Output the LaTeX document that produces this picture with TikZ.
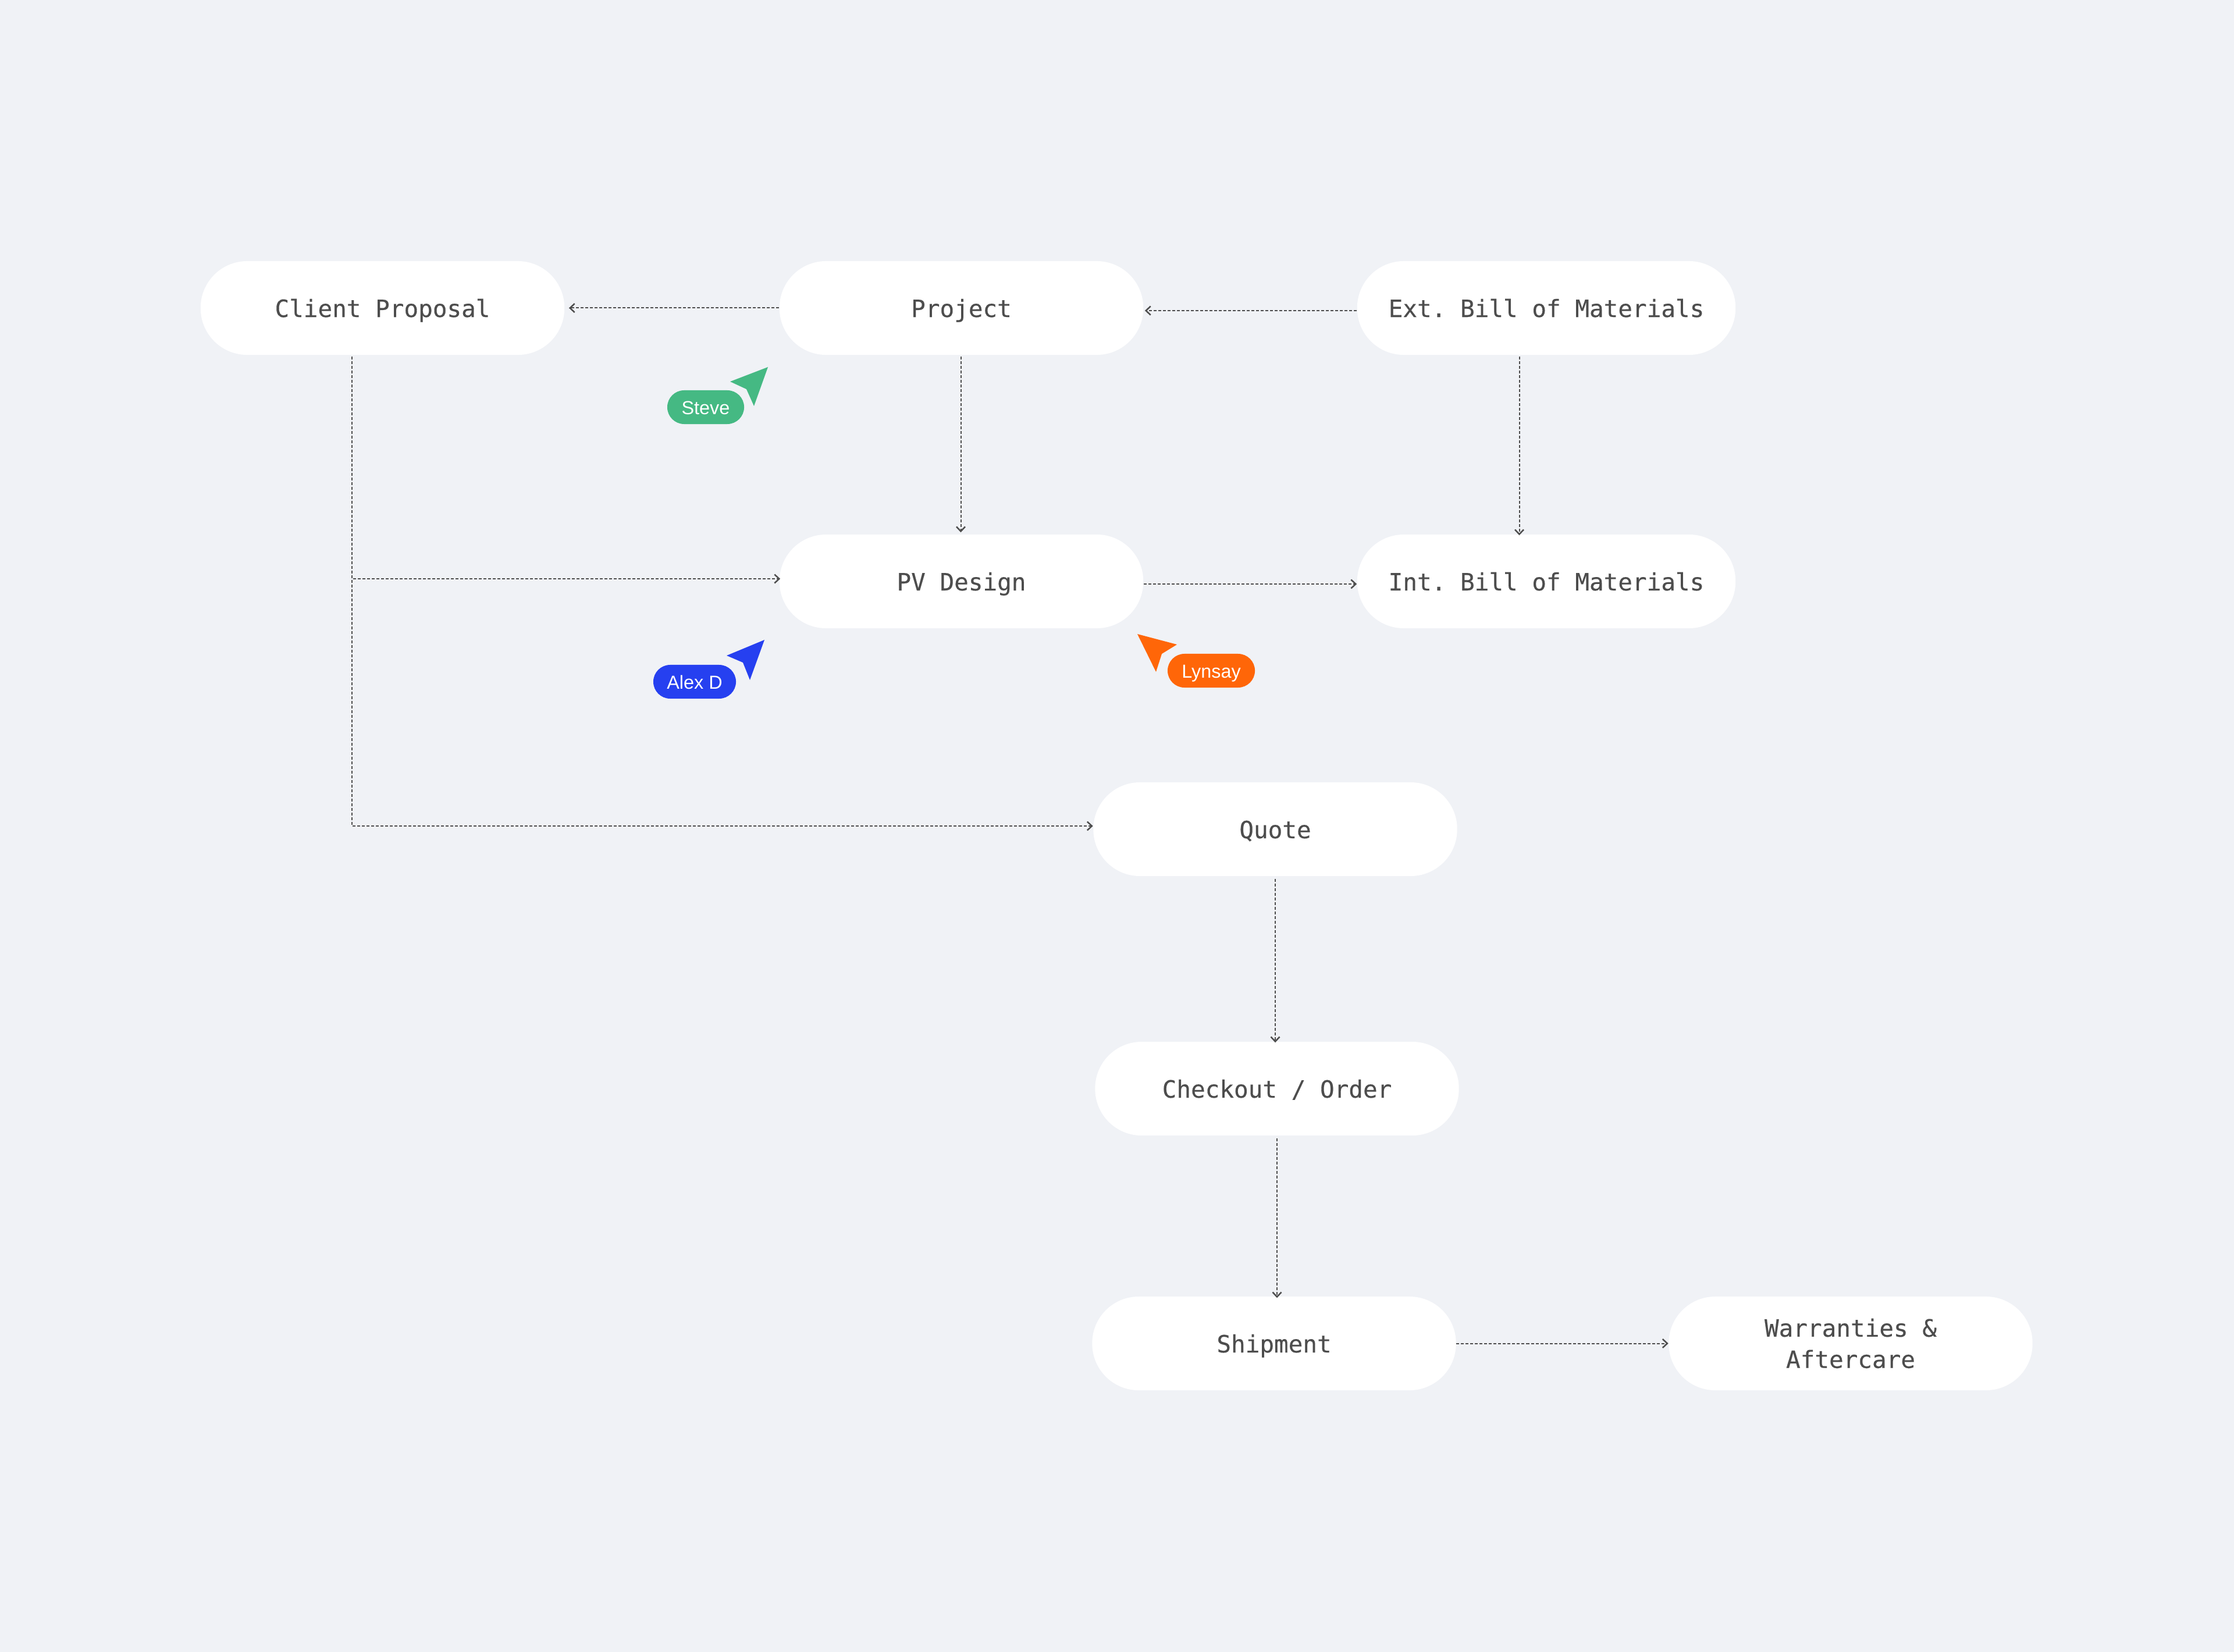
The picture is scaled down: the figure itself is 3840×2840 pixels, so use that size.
\documentclass[tikz,border=0pt]{standalone}
\usepackage{fontspec}
\setmainfont{Liberation Sans}
\setmonofont{DejaVu Sans Mono}
\usepackage{tikz}
\usetikzlibrary{arrows.meta}
\usepackage{xcolor}
\definecolor{pagegray}{RGB}{240,242,246}
\definecolor{inkgray}{RGB}{77,77,77}
\definecolor{steveg}{RGB}{69,185,131}
\definecolor{alexb}{RGB}{38,64,240}
\definecolor{lynsayo}{RGB}{255,102,8}

\begin{document}
\begin{tikzpicture}[x=0.01cm,y=-0.01cm,
  every node/.style={font=\ttfamily\addfontfeature{FakeBold=0.3}\fontsize{11.65}{15.3}\selectfont,text=inkgray},
  stage/.style={fill=white,rounded corners=0.8cm,minimum width=6.25cm,minimum height=1.61cm,inner sep=0pt,align=center},
  oneline/.style={stage,text height=0.31cm,text depth=0cm},
  flow/.style={-{Straight Barb[length=0.08cm,width=0.15cm,line width=0.025cm]},inkgray,line width=0.02cm,dash pattern=on 0.05cm off 0.03cm},
  tag/.style={rounded corners=0.29cm,minimum height=0.58cm,inner sep=0pt,text height=0.25cm,text depth=0cm,font=\fontsize{9.2}{10}\selectfont,text=white}]
  \useasboundingbox (0,0) rectangle (3840,2840);
  \fill[pagegray] (0,0) rectangle (3840,2840);
  % process boxes
  \node[oneline] (client) at (657.5,529.5) {Client Proposal};
  \node[oneline] (project) at (1652.5,529.5) {Project};
  \node[oneline,minimum width=6.5cm] (extbom) at (2658,529.5) {Ext. Bill of Materials};
  \node[oneline] (pvdesign) at (1652.5,999.5) {PV Design};
  \node[oneline,minimum width=6.5cm] (intbom) at (2658,999.5) {Int. Bill of Materials};
  \node[oneline] (quote) at (2192,1425.5) {Quote};
  \node[oneline] (checkout) at (2195,1871.5) {Checkout / Order};
  \node[oneline] (shipment) at (2190,2309.5) {Shipment};
  \node[stage] (warranty) at (3181,2309.5) {Warranties \&\\Aftercare};
  % connectors
  \draw[flow] (project.west) -- ([shift={(7,0)}]client.east);
  \draw[flow] ([shift={(0,4.5)}]extbom.west) -- ([shift={(2,4.5)}]project.east);
  \draw[flow] ([shift={(-1,2)}]project.south) -- ([shift={(-1,-3)}]pvdesign.north);
  \draw[flow] ([shift={(-46.5,2)}]extbom.south) -- ([shift={(-46.5,2)}]intbom.north);
  \draw[flow] ([shift={(0,4.5)}]pvdesign.east) -- ([shift={(0,4.5)}]intbom.west);
  \draw[flow] ([shift={(0,4)}]quote.south) -- ([shift={(-3,2)}]checkout.north);
  \draw[flow] ([shift={(0,4)}]checkout.south) -- ([shift={(5,3)}]shipment.north);
  \draw[flow] (shipment.east) -- (warranty.west);
  % branches from the proposal
  \coordinate (spine) at ([shift={(-52.5,2)}]client.south);
  \draw[flow] (spine) |- ([shift={(2,-4.5)}]pvdesign.west);
  \draw[flow] (spine) |- ([shift={(0,-5.5)}]quote.west);
  % cursors
  \fill[steveg] (1320,631) -- (1255,656) -- (1283,669) -- (1296,698) -- cycle;
  \node[tag,fill=steveg,minimum width=1.32cm] (steve) at (1213,700) {Steve};
  \fill[alexb] (1314,1100) -- (1249,1127) -- (1277,1139) -- (1289,1169) -- cycle;
  \node[tag,fill=alexb,minimum width=1.42cm] (alex) at (1194,1172) {Alex D};
  \fill[lynsayo] (1955,1090) -- (2023,1108) -- (1997,1124) -- (1987,1155) -- cycle;
  \node[tag,fill=lynsayo,minimum width=1.5cm] (lynsay) at (2082,1153) {Lynsay};
\end{tikzpicture}
\end{document}
